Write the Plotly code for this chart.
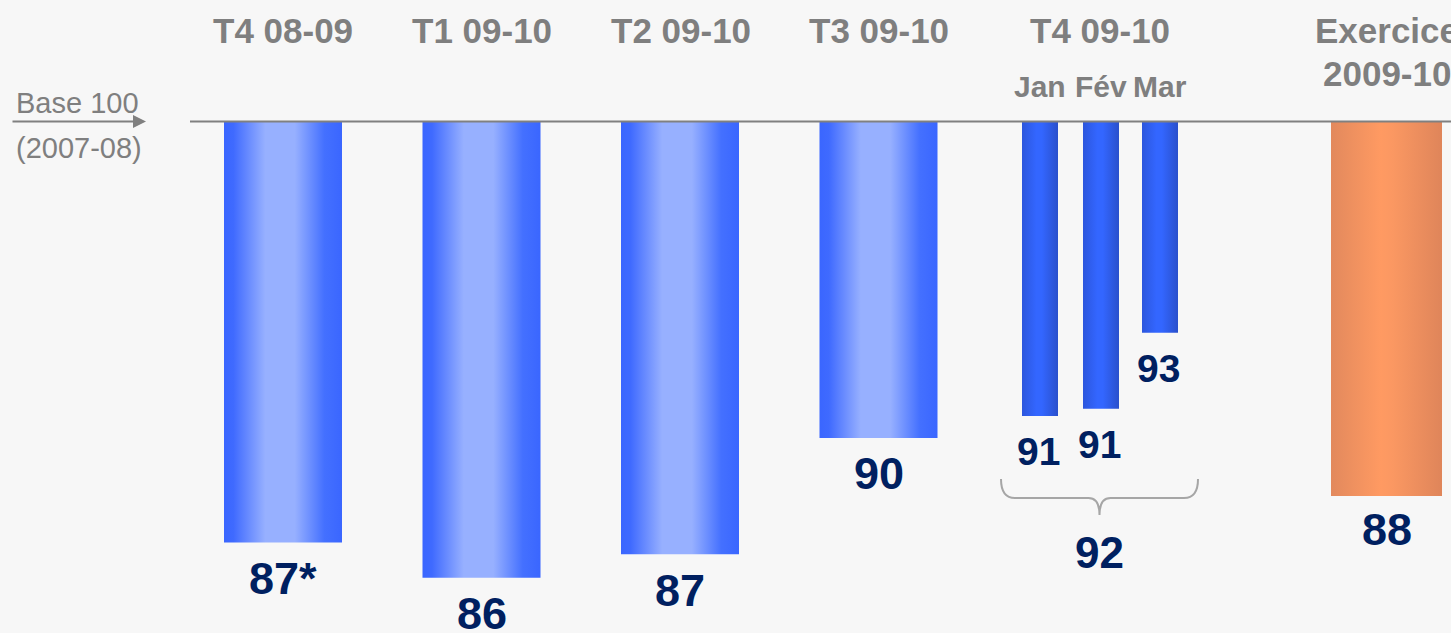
import plotly.graph_objects as go

# ---------------- data ----------------
periods = ["T4 08-09", "T1 09-10", "T2 09-10", "T3 09-10", "T4 09-10"]
year_header = ["Exercice", "2009-10"]
months = ["Jan", "Fév", "Mar"]

# levels of the bar ends on the chart's index scale (base 100 = 2007-08)
quarter_levels = [86.84, 85.74, 86.48, 90.11]
quarter_labels = ["87*", "86", "87", "90"]
month_levels = [90.80, 91.02, 93.40]
month_labels = ["91", "91", "93"]
t4_label = "92"
year_level = [88.30]
year_labels = ["88"]
base_value = 100

# ---------------- layout constants ----------------
W, H = 1451, 633
BASE_PX = 121.5          # pixel row of the base-100 line
PX_PER_UNIT = 32.0
y_top = base_value + BASE_PX / PX_PER_UNIT
y_bot = base_value - (H - BASE_PX) / PX_PER_UNIT

header_x = [283, 482, 681, 879, 1100]
year_x = 1386.5
quarter_x = [283, 481.5, 680, 878.5]
month_x = [1040, 1101, 1160]
quarter_w, month_w, year_w = 118, 36, 111

GRAY = "#7F7F7F"
NAVY = "#002060"
FONT = "Liberation Sans, Arial, sans-serif"

blue_scale = [[0, "#3A66FF"], [0.08, "#3F6AFF"], [0.35, "#97B0FF"],
              [0.6, "#97B0FF"], [0.85, "#4470FF"], [1, "#3A66FF"]]
month_scale = [[0, "#2C56DD"], [0.4, "#3366FF"], [0.55, "#3366FF"], [1, "#2A50CC"]]
orange_scale = [[0, "#E2895D"], [0.45, "#FF9A62"], [0.55, "#FB9862"], [1, "#DF855A"]]

fig = go.Figure()


def add_bar(xc, w, level, scale):
    x0, x1 = xc - w / 2, xc + w / 2
    fig.add_trace(go.Scatter(
        x=[x0, x1, x1, x0, x0],
        y=[base_value, base_value, level, level, base_value],
        mode="lines", fill="toself", line=dict(width=0),
        fillgradient=dict(type="horizontal", colorscale=scale),
        hoverinfo="skip", showlegend=False))


for xc, lv in zip(quarter_x, quarter_levels):
    add_bar(xc, quarter_w, lv, blue_scale)
for xc, lv in zip(month_x, month_levels):
    add_bar(xc, month_w, lv, month_scale)
for lv in year_level:
    add_bar(year_x, year_w, lv, orange_scale)

ann = []
# headers
for xc, t in zip(header_x, periods):
    ann.append(dict(x=xc, y=1 - 31 / H, xref="x", yref="paper", text=f"<b>{t}</b>",
                    showarrow=False, font=dict(size=35, color=GRAY, family=FONT),
                    xanchor="center", yanchor="middle"))
for i, t in enumerate(year_header):
    ann.append(dict(x=year_x, y=1 - (31 + 43 * i) / H, xref="x", yref="paper",
                    text=f"<b>{t}</b>", showarrow=False,
                    font=dict(size=35, color=GRAY, family=FONT),
                    xanchor="center", yanchor="middle"))
for xc, t in zip(month_x, months):
    ann.append(dict(x=xc, y=1 - 86 / H, xref="x", yref="paper", text=f"<b>{t}</b>",
                    showarrow=False, font=dict(size=30, color=GRAY, family=FONT),
                    xanchor="center", yanchor="middle"))

# value labels
for xc, lv, t in zip(quarter_x, quarter_levels, quarter_labels):
    ann.append(dict(x=xc, y=lv, text=f"<b>{t}</b>", showarrow=False, yshift=-36,
                    font=dict(size=45, color=NAVY, family=FONT),
                    xanchor="center", yanchor="middle"))
for xc, lv, t in zip(month_x, month_levels, month_labels):
    ann.append(dict(x=xc - 2, y=lv, text=f"<b>{t}</b>", showarrow=False, yshift=-36,
                    font=dict(size=39, color=NAVY, family=FONT),
                    xanchor="center", yanchor="middle"))
for lv, t in zip(year_level, year_labels):
    ann.append(dict(x=year_x, y=lv, text=f"<b>{t}</b>", showarrow=False, yshift=-34,
                    font=dict(size=45, color=NAVY, family=FONT),
                    xanchor="center", yanchor="middle"))

# brace under the three months + aggregate label
bl, br = month_x[0] - 39, month_x[-1] + 38
bm = (bl + br) / 2
yt = base_value - (479 - BASE_PX) / PX_PER_UNIT
ym = base_value - (498 - BASE_PX) / PX_PER_UNIT
yb = base_value - (515 - BASE_PX) / PX_PER_UNIT
brace = (f"M {bl},{yt} Q {bl},{ym} {bl+14},{ym} L {bm-11},{ym} "
         f"Q {bm},{ym} {bm},{yb} Q {bm},{ym} {bm+11},{ym} "
         f"L {br-14},{ym} Q {br},{ym} {br},{yt}")
shapes = [
    dict(type="path", path=brace, xref="x", yref="y",
         line=dict(color="#A6A6A6", width=2)),
    dict(type="line", x0=190, x1=W, y0=base_value, y1=base_value, xref="x", yref="y",
         line=dict(color="#808080", width=2), layer="above"),
]
ann.append(dict(x=bm, y=yb, text=f"<b>{t4_label}</b>", showarrow=False, yshift=-37,
                font=dict(size=44, color=NAVY, family=FONT),
                xanchor="center", yanchor="middle"))

# base 100 arrow and text
ann.append(dict(x=146, y=base_value, ax=11, ay=base_value, axref="x", ayref="y",
                xref="x", yref="y", text="", showarrow=True, arrowhead=2,
                arrowsize=1.3, arrowwidth=2, arrowcolor="#808080"))
ann.append(dict(x=14, y=1 - 103 / H, xref="x", yref="paper", text="Base 100",
                showarrow=False, font=dict(size=29, color=GRAY, family=FONT),
                xanchor="left", yanchor="middle"))
ann.append(dict(x=14, y=1 - 148 / H, xref="x", yref="paper", text="(2007-08)",
                showarrow=False, font=dict(size=29, color=GRAY, family=FONT),
                xanchor="left", yanchor="middle"))

fig.update_layout(
    width=W, height=H, margin=dict(l=0, r=0, t=0, b=0),
    paper_bgcolor="#F7F7F7", plot_bgcolor="#F7F7F7",
    xaxis=dict(range=[0, W], visible=False, fixedrange=True),
    yaxis=dict(range=[y_bot, y_top], visible=False, fixedrange=True),
    annotations=ann, shapes=shapes, showlegend=False,
)

fig.write_html("out.html")
